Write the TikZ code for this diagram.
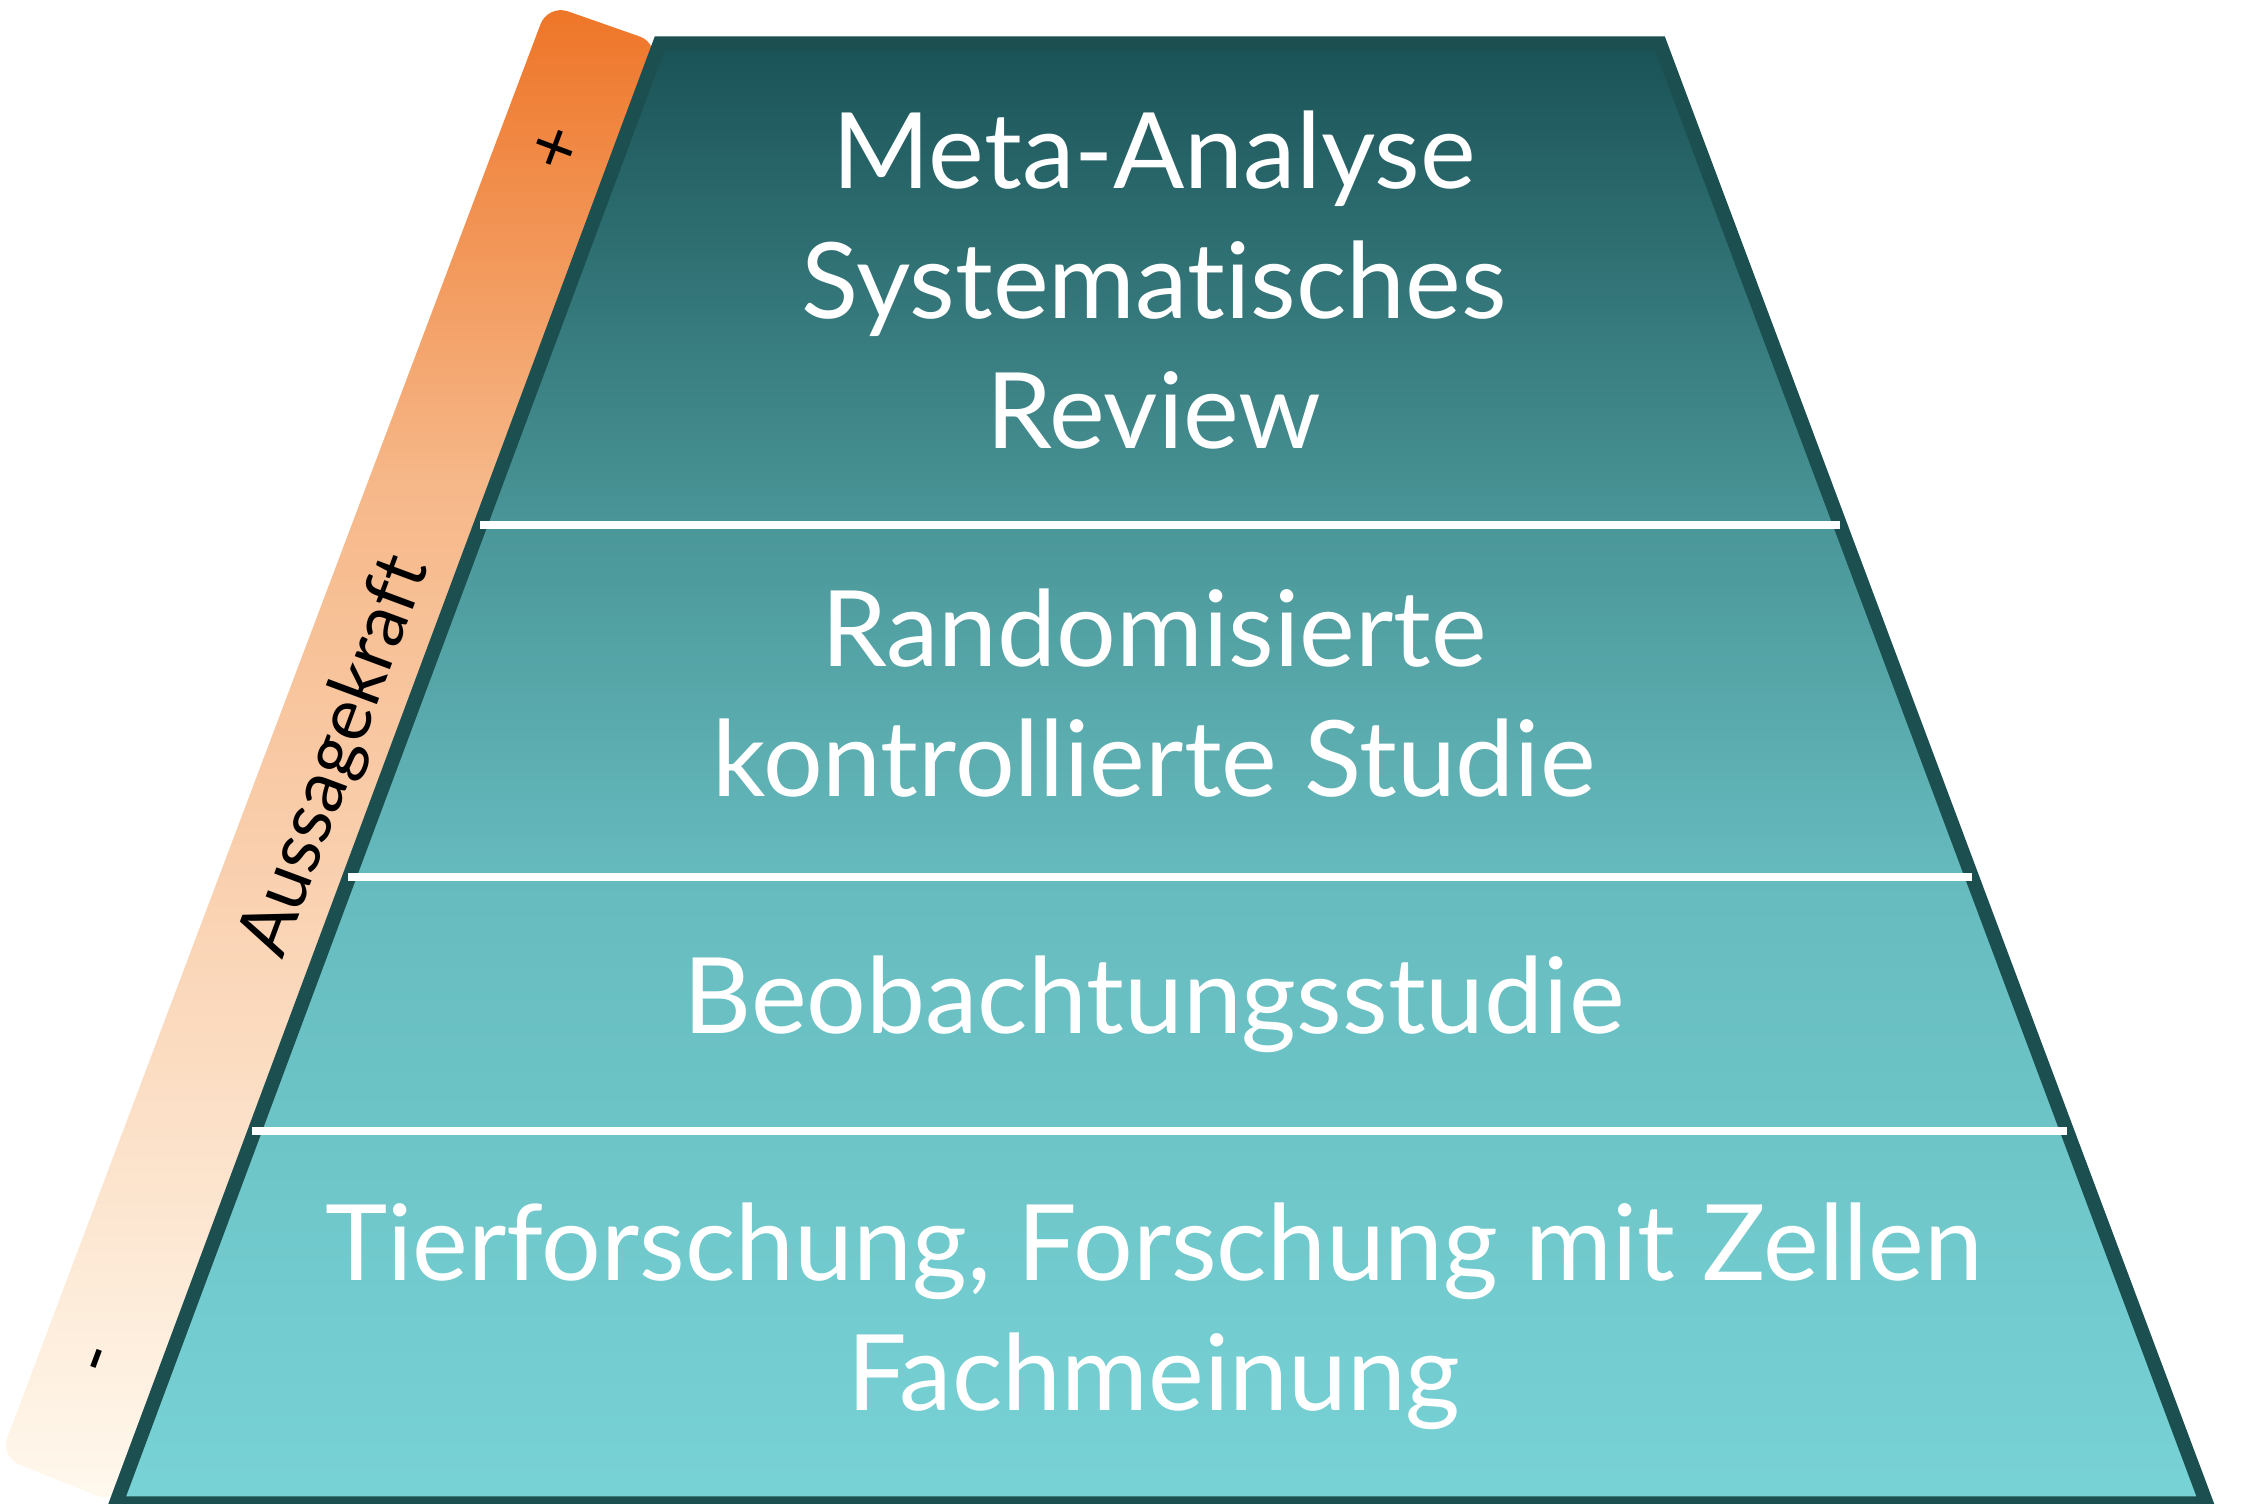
\documentclass[tikz,border=0pt]{standalone}
\usepackage{fontspec}
\setmainfont[Ligatures=NoCommon]{Lato}
\definecolor{c0}{HTML}{1A5256}
\definecolor{c1}{HTML}{4A9698}
\definecolor{c2}{HTML}{66BBBE}
\definecolor{c3}{HTML}{78D3D6}
\definecolor{edge}{HTML}{1C4F50}
\definecolor{o0}{HTML}{EE7426}
\definecolor{o1}{HTML}{F6B788}
\definecolor{o2}{HTML}{FFF9EE}
\begin{document}
\begin{tikzpicture}[x=0.014497cm,y=-0.014497cm,
  lvl/.style={text=white,font=\fontsize{30}{37}\selectfont,align=center},
  sep/.style={white,line width=2.2pt}]
\useasboundingbox (0,0) rectangle (1552,1037);
% orange bar
\begin{scope}
\clip[rounded corners=6pt] (378,3) -- (455,30) -- (80,1037) -- (0,1005) -- cycle;
\shade[top color=o0,bottom color=o1] (0,0) rectangle (460,330);
\shade[top color=o1,bottom color=o2] (0,329) rectangle (460,1040);
\end{scope}
% pyramid
\begin{scope}
\clip (455,30) -- (1145,30) -- (1522,1037) -- (80,1037) -- cycle;
\shade[top color=c0,bottom color=c1] (0,28) rectangle (1552,363);
\shade[top color=c1,bottom color=c2] (0,362) rectangle (1552,606);
\shade[top color=c2,bottom color=c3] (0,605) rectangle (1552,1040);
\end{scope}
\draw[edge,line width=4pt,line join=miter] (455,30) -- (1145,30) -- (1522,1037) -- (80,1037) -- cycle;
\coordinate (l1) at (331,362); \coordinate (r1) at (1269,362);
\coordinate (l2) at (240,605); \coordinate (r2) at (1360,605);
\coordinate (l3) at (174,780); \coordinate (r3) at (1426,780);
\draw[sep] (l1) -- (r1);
\draw[sep] (l2) -- (r2);
\draw[sep] (l3) -- (r3);
\node[lvl] (t1) at (796,193) {Meta-Analyse\\Systematisches\\Review};
\node[lvl] (t2) at (796,478) {Randomisierte\\kontrollierte Studie};
\node[lvl] (t3) at (796,693) {Beobachtungsstudie};
\node[lvl] (t4) at (796,908) {Tierforschung, Forschung mit Zellen\\Fachmeinung};
\node[rotate=69.6,font=\fontsize{21}{25}\selectfont,inner sep=0pt] (ak) at (232,522) {Aussagekraft};
\node[rotate=69.6,font=\fontsize{21}{25}\selectfont,inner sep=0pt] (plus) at (385,103) {+};
\node[rotate=69.6,font=\fontsize{21}{25}\selectfont,inner sep=0pt] (minus) at (73,940) {-};
\end{tikzpicture}
\end{document}
